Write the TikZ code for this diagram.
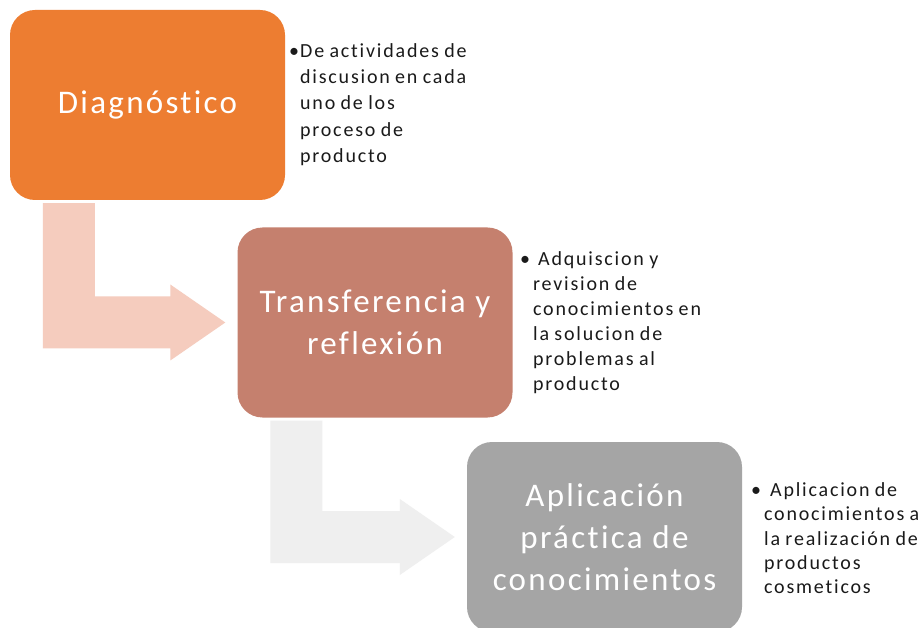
\documentclass[tikz,border=0pt]{standalone}
\usepackage{fontspec}
\setmainfont{Carlito}
\newfontfamily\etapafont{Carlito}[LetterSpace=7,Ligatures=CommonOff]
\newfontfamily\notafont{Carlito}[LetterSpace=9,WordSpace=0.85,Ligatures=CommonOff]
\usepackage{tikz}
\usetikzlibrary{calc}
\definecolor{naranja}{HTML}{ED7D31}
\definecolor{rosado}{HTML}{C5806E}
\definecolor{gris}{HTML}{A5A5A5}
\definecolor{durazno}{HTML}{F5CCBE}
\definecolor{grisclaro}{HTML}{EFEFEF}
\definecolor{tinta}{HTML}{1A1A1A}
\tikzset{
  etapa/.style = {rectangle, rounded corners=25pt, minimum width=275pt, minimum height=190pt, inner sep=0pt, align=center, text=white, font=\etapafont\fontsize{33}{42}\selectfont},
  nota/.style = {anchor=north west, inner sep=0pt, align=left, text=tinta, font=\notafont\fontsize{20}{25}\selectfont}
}
\newcommand{\flechacodo}[3]{%
  \fill[#3] let \p1=(#1.south west), \p2=(#2.west) in
    (\x1+33pt,\y1-3pt) -- (\x1+85pt,\y1-3pt) -- (\x1+85pt,\y2+26pt) -- (\x2-67pt,\y2+26pt)
    -- (\x2-67pt,\y2+38pt) -- (\x2-12pt,\y2) -- (\x2-67pt,\y2-38pt) -- (\x2-67pt,\y2-26pt)
    -- (\x1+33pt,\y2-26pt) -- cycle;}

\begin{document}
\begin{tikzpicture}[x=1pt, y=-1pt]
    \clip (0,0) rectangle (924,628);
    \fill[white] (0,0) rectangle (924,628);
    \node[etapa, fill=naranja] (diag) at (147.5,105) {Diagnóstico};
    \node[etapa, fill=rosado] (trans) at (375,322.5) {Transferencia y\\reflexión};
    \node[etapa, fill=gris] (aplic) at (604.5,537) {Aplicación\\práctica de\\conocimientos};
    \flechacodo{diag}{trans}{durazno}
    \flechacodo{trans}{aplic}{grisclaro}
    \node[nota, font=\notafont\fontsize{20}{26.2}\selectfont] (nota1) at (289,39) {\begin{tabular}{@{}l@{\hspace{1pt}}l@{}}
      \textbullet & De actividades de\\ & discusion en cada\\ & uno de los\\ & proceso de\\ & producto\end{tabular}};
    \node[nota] (nota2) at (520,248) {\begin{tabular}{@{}l@{\hspace{3pt}}l@{}}
      \textbullet & \hspace{5pt}Adquiscion y\\ & revision de\\ & conocimientos en\\ & la solucion de\\ & problemas al\\ & producto\end{tabular}};
    \node[nota, font=\notafont\fontsize{20}{24.4}\selectfont] (nota3) at (751,479) {\begin{tabular}{@{}l@{\hspace{3pt}}l@{}}
      \textbullet & \hspace{6pt}Aplicacion de\\ & conocimientos a\\ & la realización de\\ & productos\\ & cosmeticos\end{tabular}};
\end{tikzpicture}
\end{document}
